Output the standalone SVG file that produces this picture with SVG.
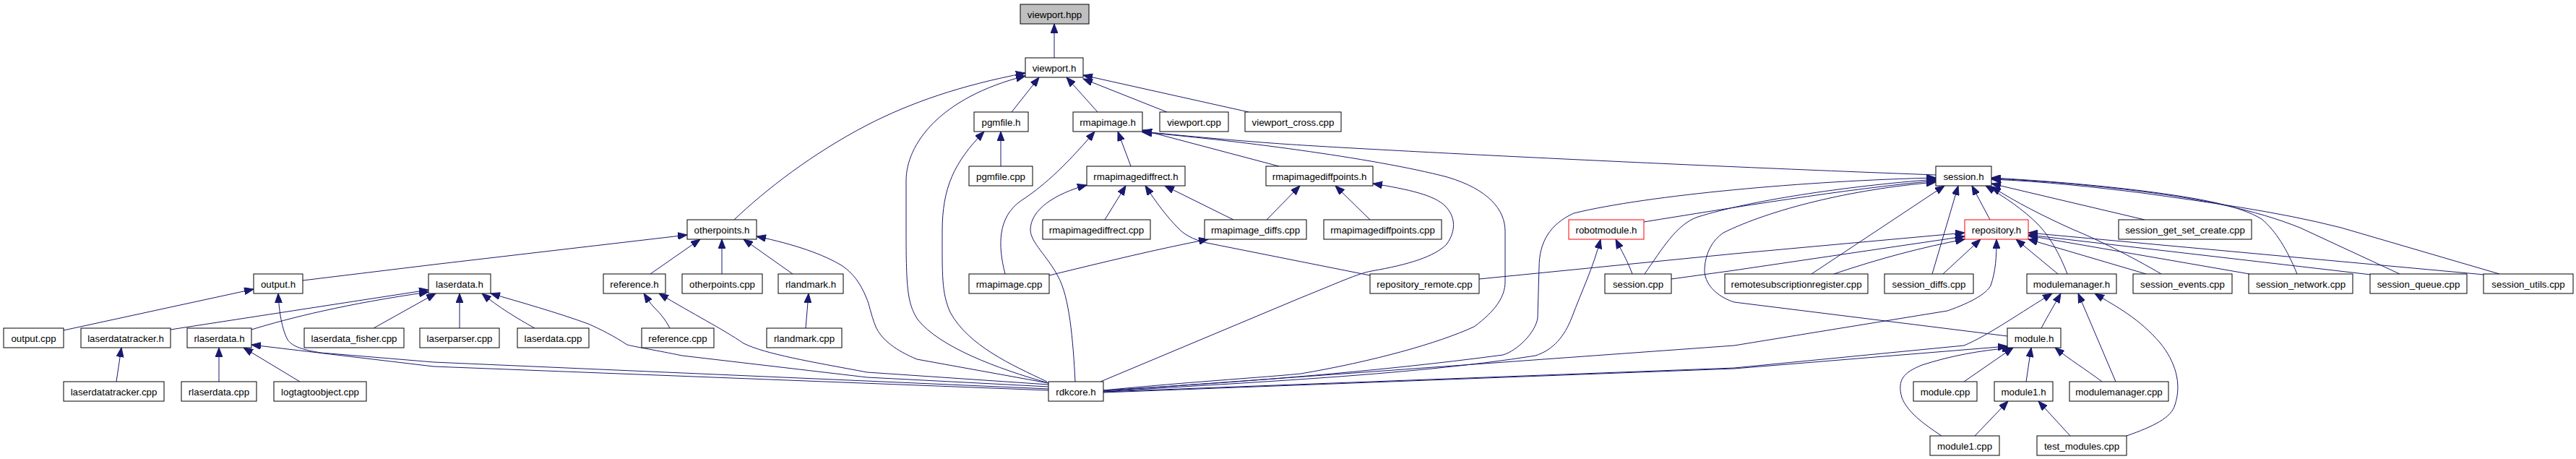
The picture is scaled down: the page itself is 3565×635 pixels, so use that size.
<svg xmlns="http://www.w3.org/2000/svg" width="3565" height="635" viewBox="0 0 3565 635">
<style>
.n rect{fill:#fff;stroke:#000;stroke-width:1}
.n.root rect{fill:#bfbfbf}
.n.red rect{stroke:#ff0000}
.n text{font-family:"Liberation Sans",Arial,sans-serif;font-size:13.3px;fill:#000;text-anchor:middle}
#edges path{fill:none;stroke:#191970;stroke-width:1;marker-end:url(#ah)}
</style>
<defs>
<marker id="ah" markerUnits="userSpaceOnUse" markerWidth="14" markerHeight="10" refX="13" refY="5" orient="auto">
<path d="M0,0 L13,5 L0,10 z" fill="#191970" stroke="#191970" stroke-width="1"/>
</marker>
</defs>
<rect width="3565" height="635" fill="#fff"/>
<g id="edges">
<path d="M1459,80 L1459,33"/>
<path d="M1016,304 C1060,262 1125,212 1200,173 C1260,142 1330,118 1419,101"/>
<path d="M1451,530 C1380,510 1300,480 1270,442 C1256,420 1254,400 1254,320 L1254,250 C1254,200 1300,135 1419,105"/>
<path d="M1400,155 L1438,107"/>
<path d="M1519,155 L1476,107"/>
<path d="M1615,155 L1499,109"/>
<path d="M1728,155 L1499,104"/>
<path d="M1385,230 L1385,182"/>
<path d="M1449,528 C1400,505 1340,478 1315,432 C1303,405 1304,380 1304,320 C1304,260 1320,225 1362,182"/>
<path d="M1391,379 C1381,340 1380,300 1414,277 C1440,260 1470,235 1515,182"/>
<path d="M1565,230 L1547,182"/>
<path d="M1770,230 L1581,180"/>
<path d="M2679,242 C2300,228 1850,205 1760,198 C1680,192 1620,186 1581,182"/>
<path d="M1527,540 C1650,528 1750,522 1800,517 C1900,500 1990,475 2040,452 C2070,430 2083,410 2083,390 L2083,320 C2083,290 2060,262 2003,245 C1900,218 1700,193 1581,183"/>
<path d="M1529,304 L1558,257"/>
<path d="M1488,528 C1485,470 1480,410 1464,382 C1450,355 1426,335 1426,318 C1426,290 1460,268 1504,256"/>
<path d="M1707,304 L1612,257"/>
<path d="M1896,381 L1670,336 C1650,331 1638,324 1630,315 C1615,300 1600,280 1585,257"/>
<path d="M1753,304 L1799,257"/>
<path d="M1896,304 L1848,257"/>
<path d="M1523,528 L1800,412 C1850,392 1880,378 1898,375 C1950,366 1985,355 2002,338 C2015,320 2015,300 2000,285 C1985,270 1950,262 1900,254"/>
<path d="M1452,381 C1530,362 1600,345 1672,331"/>
<path d="M2275,307 C2400,287 2550,262 2679,250"/>
<path d="M1527,540 C1700,530 1900,515 2080,491 C2100,485 2125,460 2128,440 L2130,370 C2130,335 2145,310 2178,295 C2280,270 2500,250 2679,246"/>
<path d="M2276,379 C2300,345 2320,310 2350,300 C2420,278 2550,258 2679,248"/>
<path d="M2778,465 L2400,418 C2375,410 2358,392 2359,372 C2360,350 2370,332 2385,322 C2450,290 2560,262 2679,252"/>
<path d="M2507,379 L2691,257"/>
<path d="M2674,379 L2710,257"/>
<path d="M2754,304 L2729,257"/>
<path d="M2861,379 C2850,350 2835,325 2820,310 C2800,290 2775,273 2748,257"/>
<path d="M2991,379 C2950,355 2900,330 2870,318 C2830,300 2790,280 2756,258"/>
<path d="M2968,304 L2756,254"/>
<path d="M3179,379 C3165,345 3150,320 3130,303 C3100,285 3050,275 2965,264 C2900,256 2830,250 2756,246"/>
<path d="M3321,379 L3183,315 C3120,290 3050,276 2965,265 C2900,257 2830,250 2756,247"/>
<path d="M3459,379 L3240,315 C3150,292 3050,279 2965,267 C2900,259 2830,251 2756,248"/>
<path d="M2047,386 L2400,351 L2719,322"/>
<path d="M2313,386 L2400,374 L2719,327"/>
<path d="M2538,379 C2600,358 2660,342 2719,331"/>
<path d="M2689,379 L2741,331"/>
<path d="M1527,541 L2400,478 L2695,430 C2730,418 2750,405 2755,395 C2762,375 2763,355 2763,331"/>
<path d="M2848,379 L2790,331"/>
<path d="M2970,379 L2807,331"/>
<path d="M3113,379 L2807,326"/>
<path d="M3281,380 L2807,325"/>
<path d="M3438,380 L2807,322"/>
<path d="M1527,542 C1700,530 1950,520 2125,492 C2150,484 2165,465 2175,440 C2190,400 2205,370 2215,331"/>
<path d="M2259,379 C2252,360 2243,345 2236,331"/>
<path d="M1527,542 L2400,509 L2718,478 C2750,465 2800,430 2840,406"/>
<path d="M2825,454 C2835,435 2843,422 2852,406"/>
<path d="M2928,528 L2876,406"/>
<path d="M2943,603 C2980,590 3005,578 3010,560 C3020,530 3010,500 2990,475 C2960,440 2930,425 2899,406"/>
<path d="M1527,543 L2400,510 L2778,479"/>
<path d="M2718,528 L2786,481"/>
<path d="M2687,603 C2660,585 2640,570 2632,550 C2625,525 2635,515 2660,505 C2700,492 2740,485 2784,481"/>
<path d="M2804,528 L2811,481"/>
<path d="M2909,528 C2885,510 2865,498 2844,481"/>
<path d="M2733,603 L2779,555"/>
<path d="M2865,603 L2821,555"/>
<path d="M88,457 L351,400"/>
<path d="M419,388 L600,366 L951,325"/>
<path d="M1451,538 L600,501 L444,488 C420,484 405,480 398,470 C390,455 386,430 385,406"/>
<path d="M1451,540 L600,507 L348,477"/>
<path d="M236,456 L593,401"/>
<path d="M348,456 C400,440 480,420 593,404"/>
<path d="M517,454 L603,406"/>
<path d="M636,454 L636,406"/>
<path d="M740,454 C715,440 690,425 667,406"/>
<path d="M1451,535 L1200,522 L944,492 C910,485 880,480 868,477 C850,465 830,455 814,448 C770,432 720,418 679,406"/>
<path d="M900,379 L969,331"/>
<path d="M999,379 L999,331"/>
<path d="M1097,379 L1029,331"/>
<path d="M1451,530 L1269,497 C1240,485 1220,470 1212,452 C1205,435 1203,420 1199,412 C1190,390 1180,378 1166,368 C1140,352 1100,338 1047,327"/>
<path d="M927,454 C920,440 910,430 905,425 C900,420 895,412 891,406"/>
<path d="M1451,532 L1200,515 C1120,500 1060,490 1029,475 C1000,455 960,435 912,406"/>
<path d="M1115,454 L1119,406"/>
<path d="M161,528 L168,481"/>
<path d="M303,528 L303,481"/>
<path d="M415,528 L337,481"/>
</g>
<g id="viewport_hpp" class="n root"><rect x="1412" y="6" width="95" height="27"/><text x="1459.5" y="24.5">viewport.hpp</text></g>
<g id="viewport_h" class="n"><rect x="1419" y="80" width="80" height="27"/><text x="1459" y="98.5">viewport.h</text></g>
<g id="pgmfile_h" class="n"><rect x="1348" y="155" width="75" height="27"/><text x="1385.5" y="173.5">pgmfile.h</text></g>
<g id="rmapimage_h" class="n"><rect x="1485" y="155" width="96" height="27"/><text x="1533" y="173.5">rmapimage.h</text></g>
<g id="viewport_cpp" class="n"><rect x="1605" y="155" width="95" height="27"/><text x="1652.5" y="173.5">viewport.cpp</text></g>
<g id="viewport_cross_cpp" class="n"><rect x="1723" y="155" width="133" height="27"/><text x="1789.5" y="173.5">viewport_cross.cpp</text></g>
<g id="pgmfile_cpp" class="n"><rect x="1341" y="230" width="88" height="27"/><text x="1385" y="248.5">pgmfile.cpp</text></g>
<g id="rmapimagediffrect_h" class="n"><rect x="1504" y="230" width="136" height="27"/><text x="1572" y="248.5">rmapimagediffrect.h</text></g>
<g id="rmapimagediffpoints_h" class="n"><rect x="1752" y="230" width="148" height="27"/><text x="1826" y="248.5">rmapimagediffpoints.h</text></g>
<g id="session_h" class="n"><rect x="2679" y="230" width="77" height="27"/><text x="2717.5" y="248.5">session.h</text></g>
<g id="rmapimagediffrect_cpp" class="n"><rect x="1443" y="304" width="149" height="27"/><text x="1517.5" y="322.5">rmapimagediffrect.cpp</text></g>
<g id="rmapimage_diffs_cpp" class="n"><rect x="1667" y="304" width="141" height="27"/><text x="1737.5" y="322.5">rmapimage_diffs.cpp</text></g>
<g id="rmapimagediffpoints_cpp" class="n"><rect x="1832" y="304" width="163" height="27"/><text x="1913.5" y="322.5">rmapimagediffpoints.cpp</text></g>
<g id="robotmodule_h" class="n red"><rect x="2171" y="304" width="104" height="27"/><text x="2223" y="322.5">robotmodule.h</text></g>
<g id="repository_h" class="n red"><rect x="2719" y="304" width="88" height="27"/><text x="2763" y="322.5">repository.h</text></g>
<g id="session_get_set_create_cpp" class="n"><rect x="2932" y="304" width="184" height="27"/><text x="3024" y="322.5">session_get_set_create.cpp</text></g>
<g id="otherpoints_h" class="n"><rect x="951" y="304" width="96" height="27"/><text x="999" y="322.5">otherpoints.h</text></g>
<g id="output_h" class="n"><rect x="351" y="379" width="68" height="27"/><text x="385" y="397.5">output.h</text></g>
<g id="laserdata_h" class="n"><rect x="593" y="379" width="86" height="27"/><text x="636" y="397.5">laserdata.h</text></g>
<g id="reference_h" class="n"><rect x="835" y="379" width="86" height="27"/><text x="878" y="397.5">reference.h</text></g>
<g id="otherpoints_cpp" class="n"><rect x="944" y="379" width="111" height="27"/><text x="999.5" y="397.5">otherpoints.cpp</text></g>
<g id="rlandmark_h" class="n"><rect x="1077" y="379" width="90" height="27"/><text x="1122" y="397.5">rlandmark.h</text></g>
<g id="rmapimage_cpp" class="n"><rect x="1341" y="379" width="111" height="27"/><text x="1396.5" y="397.5">rmapimage.cpp</text></g>
<g id="repository_remote_cpp" class="n"><rect x="1896" y="379" width="151" height="27"/><text x="1971.5" y="397.5">repository_remote.cpp</text></g>
<g id="session_cpp" class="n"><rect x="2221" y="379" width="92" height="27"/><text x="2267" y="397.5">session.cpp</text></g>
<g id="remotesubscriptionregister_cpp" class="n"><rect x="2387" y="379" width="198" height="27"/><text x="2486" y="397.5">remotesubscriptionregister.cpp</text></g>
<g id="session_diffs_cpp" class="n"><rect x="2608" y="379" width="123" height="27"/><text x="2669.5" y="397.5">session_diffs.cpp</text></g>
<g id="modulemanager_h" class="n"><rect x="2805" y="379" width="124" height="27"/><text x="2867" y="397.5">modulemanager.h</text></g>
<g id="session_events_cpp" class="n"><rect x="2952" y="379" width="137" height="27"/><text x="3020.5" y="397.5">session_events.cpp</text></g>
<g id="session_network_cpp" class="n"><rect x="3112" y="379" width="144" height="27"/><text x="3184" y="397.5">session_network.cpp</text></g>
<g id="session_queue_cpp" class="n"><rect x="3280" y="379" width="134" height="27"/><text x="3347" y="397.5">session_queue.cpp</text></g>
<g id="session_utils_cpp" class="n"><rect x="3437" y="379" width="124" height="27"/><text x="3499" y="397.5">session_utils.cpp</text></g>
<g id="output_cpp" class="n"><rect x="5" y="454" width="83" height="27"/><text x="46.5" y="472.5">output.cpp</text></g>
<g id="laserdatatracker_h" class="n"><rect x="112" y="454" width="124" height="27"/><text x="174" y="472.5">laserdatatracker.h</text></g>
<g id="rlaserdata_h" class="n"><rect x="259" y="454" width="89" height="27"/><text x="303.5" y="472.5">rlaserdata.h</text></g>
<g id="laserdata_fisher_cpp" class="n"><rect x="421" y="454" width="138" height="27"/><text x="490" y="472.5">laserdata_fisher.cpp</text></g>
<g id="laserparser_cpp" class="n"><rect x="581" y="454" width="110" height="27"/><text x="636" y="472.5">laserparser.cpp</text></g>
<g id="laserdata_cpp" class="n"><rect x="716" y="454" width="99" height="27"/><text x="765.5" y="472.5">laserdata.cpp</text></g>
<g id="reference_cpp" class="n"><rect x="888" y="454" width="100" height="27"/><text x="938" y="472.5">reference.cpp</text></g>
<g id="rlandmark_cpp" class="n"><rect x="1061" y="454" width="104" height="27"/><text x="1113" y="472.5">rlandmark.cpp</text></g>
<g id="module_h" class="n"><rect x="2778" y="454" width="74" height="27"/><text x="2815" y="472.5">module.h</text></g>
<g id="laserdatatracker_cpp" class="n"><rect x="88" y="528" width="139" height="27"/><text x="157.5" y="546.5">laserdatatracker.cpp</text></g>
<g id="rlaserdata_cpp" class="n"><rect x="251" y="528" width="104" height="27"/><text x="303" y="546.5">rlaserdata.cpp</text></g>
<g id="logtagtoobject_cpp" class="n"><rect x="379" y="528" width="128" height="27"/><text x="443" y="546.5">logtagtoobject.cpp</text></g>
<g id="rdkcore_h" class="n"><rect x="1451" y="528" width="76" height="27"/><text x="1489" y="546.5">rdkcore.h</text></g>
<g id="module_cpp" class="n"><rect x="2648" y="528" width="88" height="27"/><text x="2692" y="546.5">module.cpp</text></g>
<g id="module1_h" class="n"><rect x="2760" y="528" width="81" height="27"/><text x="2800.5" y="546.5">module1.h</text></g>
<g id="modulemanager_cpp" class="n"><rect x="2864" y="528" width="137" height="27"/><text x="2932.5" y="546.5">modulemanager.cpp</text></g>
<g id="module1_cpp" class="n"><rect x="2671" y="603" width="96" height="27"/><text x="2719" y="621.5">module1.cpp</text></g>
<g id="test_modules_cpp" class="n"><rect x="2819" y="603" width="124" height="27"/><text x="2881" y="621.5">test_modules.cpp</text></g>
</svg>
